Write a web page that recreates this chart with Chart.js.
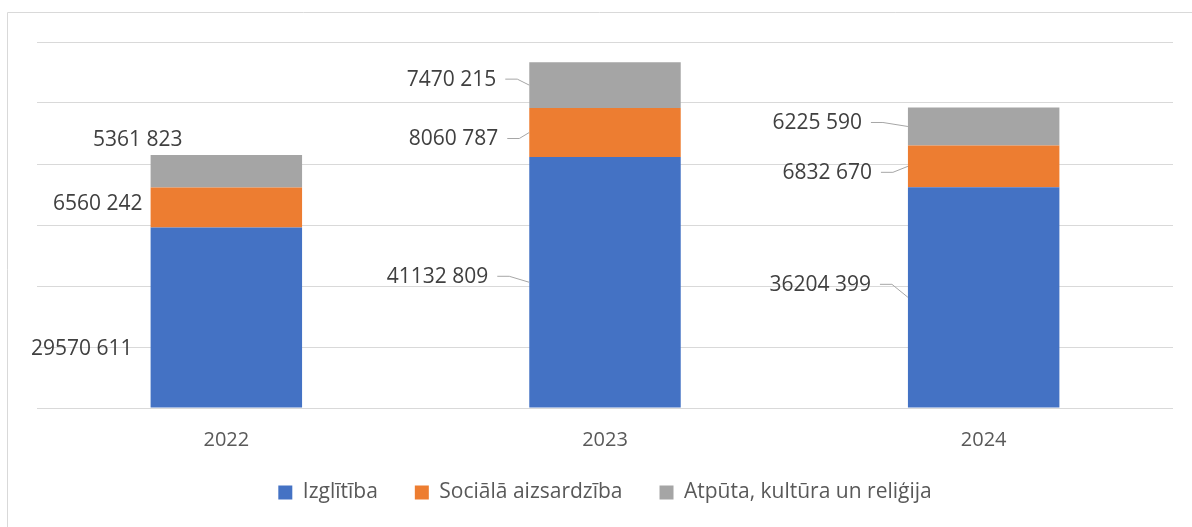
<!DOCTYPE html>
<html>
<head>
<meta charset="utf-8">
<script src="https://cdn.jsdelivr.net/npm/chart.js@4.4.1/dist/chart.umd.min.js"></script>
<style>
html, body { margin: 0; padding: 0; background: #fff; }
#wrap { width: 1192px; height: 527px; }
</style>
</head>
<body>
<div id="wrap"><canvas id="myChart" width="1192" height="527"></canvas></div>
<script>
// data
const years = ['2022', '2023', '2024'];
const seriesNames = ['Izglītība', 'Sociālā aizsardzība', 'Atpūta, kultūra un reliģija'];
const izglitiba = [29570611, 41132809, 36204399];
const socialaAizsardziba = [6560242, 8060787, 6832670];
const atputaKultura = [5361823, 7470215, 6225590];
const yMax = 60000000;
const yStep = 10000000;

const colors = ['#4472C4', '#ED7D31', '#A5A5A5'];

// where each value label sits: [x of text end from bar left, y from segment middle, leader line]
const labelPos = [
    [[-18, 31, false], [-41, -5, true], [-37, -12, true]],
    [[-8, -4, false], [-31, 7, true], [-36, 7, true]],
    [[32, -31, false], [-33, -5, true], [-46, -3, true]]
];

function fmt(v) {
    const rest = String(v % 1000).padStart(3, '0');
    return Math.floor(v / 1000) + ' ' + rest;
}

const labelPlugin = {
    id: 'labelPlugin',
    afterLayout(chart) {
        // pull the legend up a bit closer to the axis labels
        chart.legend.top -= 7;
        chart.legend.bottom -= 7;
    },
    beforeDraw(chart) {
        const c = chart.ctx;
        c.save();
        c.strokeStyle = '#d9d9d9';
        c.lineWidth = 1;
        c.beginPath();
        c.moveTo(7.5, 527);
        c.lineTo(7.5, 12.5);
        c.lineTo(1192, 12.5);
        c.stroke();
        c.restore();
    },
    afterDatasetsDraw(chart) {
        const c = chart.ctx;
        c.save();
        c.font = '21px "Open Sans"';
        c.fillStyle = '#404040';
        c.strokeStyle = '#a6a6a6';
        c.lineWidth = 1;
        c.textAlign = 'right';
        c.textBaseline = 'middle';
        chart.data.datasets.forEach((ds, i) => {
            chart.getDatasetMeta(i).data.forEach((bar, j) => {
                const p = labelPos[i][j];
                const left = bar.x - bar.width / 2;
                const mid = (bar.y + bar.base) / 2;
                const tx = left + p[0];
                const ty = mid + p[1];
                c.fillText(fmt(ds.data[j]), tx, ty);
                if (p[2]) {
                    c.beginPath();
                    c.moveTo(tx + 9, ty - 1);
                    c.lineTo(tx + 21, ty - 1);
                    c.lineTo(left, mid);
                    c.stroke();
                }
            });
        });
        c.restore();
    }
};

Chart.defaults.font.family = '"Open Sans"';
Chart.defaults.color = '#595959';

const ctx = document.getElementById('myChart').getContext('2d');
const myChart = new Chart(ctx, {
    type: 'bar',
    data: {
        labels: years,
        datasets: [
            { label: seriesNames[0], data: izglitiba, backgroundColor: colors[0] },
            { label: seriesNames[1], data: socialaAizsardziba, backgroundColor: colors[1] },
            { label: seriesNames[2], data: atputaKultura, backgroundColor: colors[2] }
        ]
    },
    options: {
        responsive: false,
        animation: false,
        events: [],
        barPercentage: 0.4,
        categoryPercentage: 1,
        layout: {
            padding: { left: 37, right: 19, top: 42, bottom: 7 }
        },
        scales: {
            x: {
                stacked: true,
                grid: { display: false, drawTicks: false },
                border: { display: false },
                ticks: { padding: 20, font: { size: 20 }, color: '#595959' },
                afterFit(s) { s.height = 44; }
            },
            y: {
                stacked: true,
                min: 0,
                max: yMax,
                ticks: { display: false, stepSize: yStep },
                grid: { color: '#d9d9d9', lineWidth: 1, drawTicks: false },
                border: { display: false },
                afterFit(s) { s.width = 0; }
            }
        },
        plugins: {
            tooltip: { enabled: false },
            legend: {
                position: 'bottom',
                labels: {
                    boxWidth: 14,
                    boxHeight: 14,
                    padding: 37,
                    font: { size: 21 },
                    color: '#595959'
                }
            }
        }
    },
    plugins: [labelPlugin]
});
</script>
</body>
</html>
